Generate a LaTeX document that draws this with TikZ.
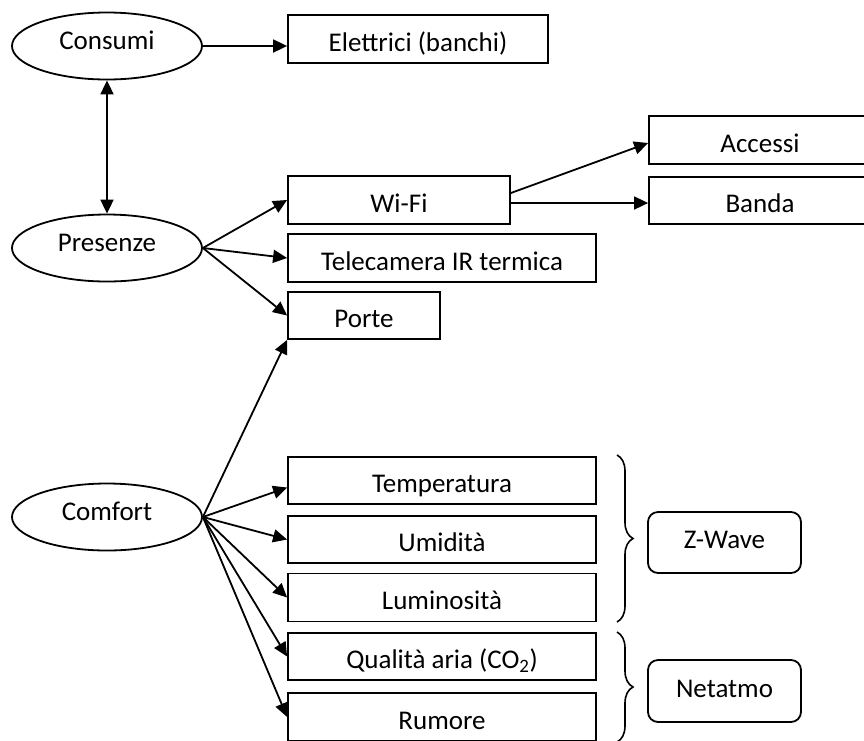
\documentclass[tikz,border=0pt]{standalone}
\usepackage{fontspec}
\setmainfont{Carlito}
\usetikzlibrary{arrows.meta,decorations.pathreplacing,shapes.geometric}
\begin{document}
\begin{tikzpicture}[x=1pt,y=-1pt,
  every node/.style={font=\fontsize{27}{32}\selectfont, inner sep=0pt},
  ell/.style={ellipse, draw, line width=1.8pt, minimum width=190pt, minimum height=67pt, text height=17pt, text depth=10pt},
  box/.style={rectangle, draw, line width=1.8pt, minimum height=48pt, text height=26pt, text depth=2pt},
  rbox/.style={rectangle, draw, rounded corners=10pt, line width=1.8pt, minimum width=153pt, minimum height=61pt, text height=20pt, text depth=8pt},
  arr/.style={line width=1.8pt, -{Triangle[length=14pt,width=13pt]}},
  darr/.style={line width=1.8pt, {Triangle[length=14pt,width=13pt]}-{Triangle[length=14pt,width=13pt]}},
  brc/.style={line width=1.6pt, decorate, decoration={brace, amplitude=16pt}}]
\clip (0,0) rectangle (864,740);
\fill[white] (0,0) rectangle (864,740);
% ellipses
\node[ell] (consumi) at (107,46) {Consumi};
\node[ell] (presenze) at (107,248) {Presenze};
\node[ell] (comfort) at (107,517) {Comfort};
% boxes
\node[box, minimum width=260pt] (elettrici) at (418,39) {Elettrici (banchi)};
\node[box, minimum width=222pt] (wifi) at (399,200) {Wi-Fi};
\node[box, minimum width=308pt] (tele) at (442,258) {Telecamera IR termica};
\node[box, minimum width=152pt, minimum height=47pt] (porte) at (364,315.5) {Porte};
\node[box, minimum width=222pt] (accessi) at (760,140) {Accessi};
\node[box, minimum width=222pt, minimum height=47pt] (banda) at (760,200.5) {Banda};
\node[box, minimum width=308pt, minimum height=47pt] (temp) at (442,480.5) {Temperatura};
\node[box, minimum width=308pt, minimum height=47pt] (umid) at (442,539.5) {Umidità};
\node[box, minimum width=308pt, minimum height=48pt] (lumi) at (442,597.5) {Luminosità};
\node[box, minimum width=308pt, minimum height=47pt] (qual) at (442,656.5) {Qualità aria (CO\textsubscript{2})};
\node[box, minimum width=308pt, minimum height=48pt] (rumore) at (442,717) {Rumore};
\node[rbox] (zwave) at (724.5,542.5) {Z-Wave};
\node[rbox, minimum height=62pt] (netatmo) at (724.5,691) {Netatmo};
% connectors
\draw[arr] (consumi.east) -- (consumi.east -| elettrici.west);
\draw[darr] (consumi.south) -- (presenze.north);
\draw[arr] (presenze.east) -- (wifi.west);
\draw[arr] (presenze.east) -- (tele.west);
\draw[arr] (presenze.east) -- (porte.west);
\draw[arr] ([yshift=7pt]wifi.east) -- ([yshift=-3pt]accessi.west);
\draw[arr] ([yshift=-3pt]wifi.east) -- ([yshift=-3pt]wifi.east -| banda.west);
\draw[arr] (comfort.east) -- (porte.south west);
\draw[arr] (comfort.east) -- ([yshift=-7pt]temp.west);
\draw[arr] (comfort.east) -- (umid.west);
\draw[arr] (comfort.east) -- (lumi.west);
\draw[arr] (comfort.east) -- (qual.west);
\draw[arr] (comfort.east) -- (rumore.west);
% braces
\coordinate (b1a) at (617,455);
\coordinate (b1b) at (617,622);
\coordinate (b2a) at (617,632);
\coordinate (b2b) at (617,742);
\draw[brc] (b1a) -- (b1b);
\draw[brc] (b2a) -- (b2b);
\end{tikzpicture}
\end{document}
